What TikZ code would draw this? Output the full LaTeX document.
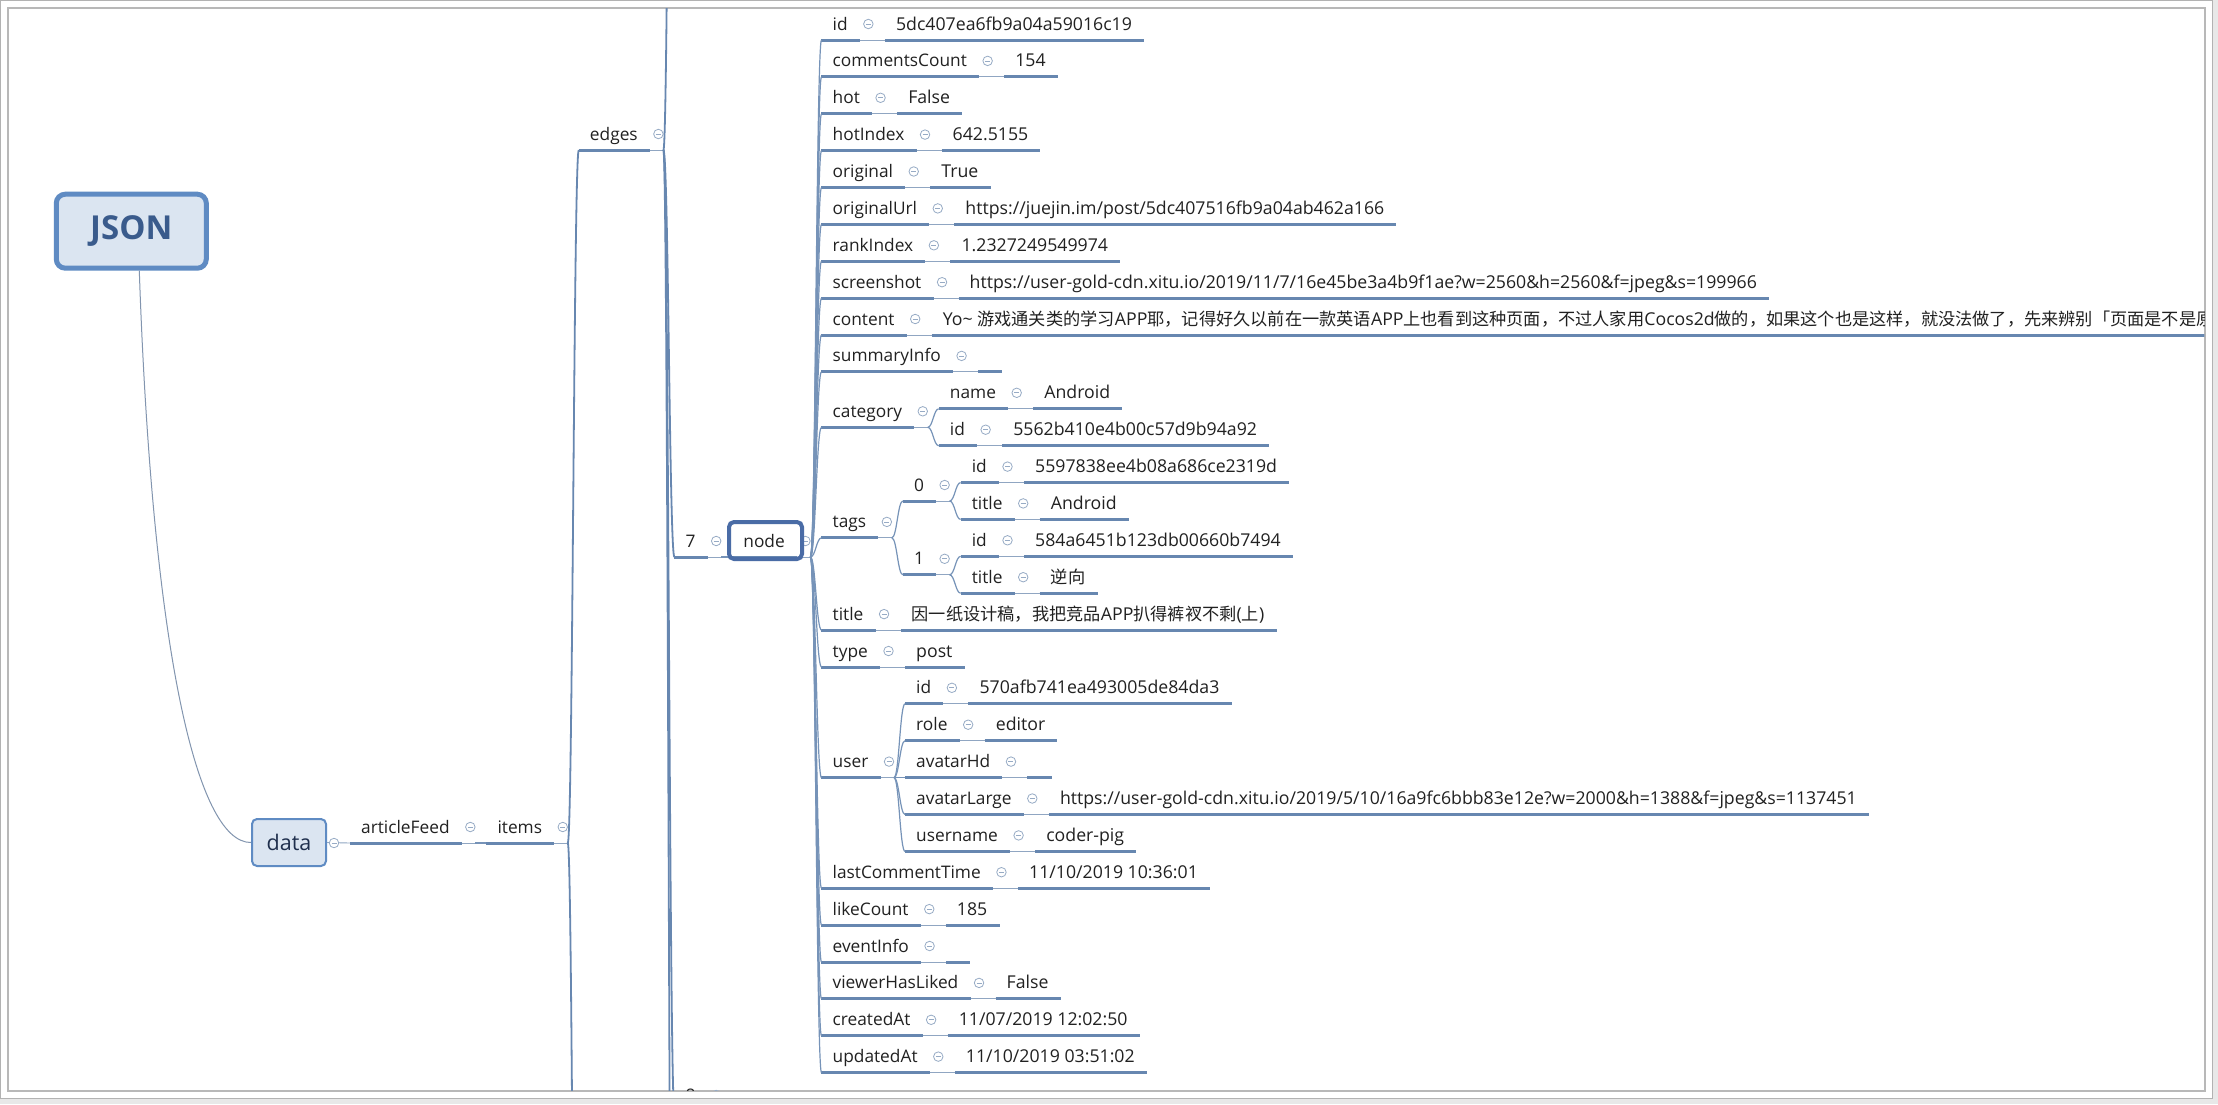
\documentclass[tikz,border=0pt]{standalone}
\usepackage{fontspec}
\setmainfont{Open Sans}
\newfontfamily\cjkf{Noto Sans CJK SC}
\usetikzlibrary{calc}
\definecolor{ul}{HTML}{6787B0}
\definecolor{thinc}{HTML}{90A6C2}
\definecolor{cc}{HTML}{97ABC5}
\definecolor{boxfill}{HTML}{DBE5F1}
\definecolor{boxdraw}{HTML}{5F8BC3}
\definecolor{seldraw}{HTML}{4A6CA6}
\definecolor{jsontext}{HTML}{3A5B8C}
\definecolor{datatext}{HTML}{1F2F4D}
\newcommand\cj[1]{{\cjkf\fontsize{17.2}{20}\selectfont #1}}
\tikzset{
 txt/.style={inner sep=0pt, anchor=base west, font=\fontsize{17.3}{20}\selectfont, text=black!87},
 valtxt/.style={inner sep=0pt, anchor=base west, font=\fontsize{17.7}{20}\selectfont, text=black!87},
 uline/.style={line width=3pt, draw=ul},
 thinl/.style={line width=0.9pt, draw=thinc},
 conn/.style={line width=1.2pt, draw=ul!90},
 trunk/.style={line width=1.8pt, draw=ul},
 rootlink/.style={line width=1pt, draw=thinc!90!black},
 collapse/.style={circle, draw=cc, line width=0.8pt, fill=white, inner sep=0pt, minimum size=9.5pt,
   path picture={\draw[cc, line width=0.8pt] ([xshift=-2.5pt]path picture bounding box.center) -- ([xshift=2.5pt]path picture bounding box.center);}},
 rootbox/.style={rounded corners=9pt, draw=boxdraw, fill=boxfill, line width=5pt, minimum width=150pt, minimum height=74pt, inner sep=0pt, text=jsontext, font=\bfseries\fontsize{33}{36}\selectfont},
 databox/.style={rounded corners=5pt, draw=boxdraw, fill=boxfill, line width=2pt, minimum width=74pt, minimum height=47pt, inner sep=0pt, text=datatext, font=\fontsize{21.5}{24}\selectfont},
 selbox/.style={rounded corners=5pt, draw=seldraw, line width=4pt, minimum width=73pt, minimum height=37pt, inner sep=0pt},
}
% topic: name, x-start coordinate, y of text centre, key
\newcommand\mtopic[4]{%
  \coordinate (#1-y) at (0,#3+16);
  \coordinate (#1-s) at (#2 |- #1-y);
  \node[txt] (#1) at ($(#1-s)+(11,-10)$) {#4};
  \coordinate (#1-e) at ($(#1.east |- #1-s)+(12,0)$);
  \draw[uline] (#1-s) -- (#1-e);
  \coordinate (#1-b) at ($(#1-e)+(13.5,0)$);
  \draw[thinl] (#1-e) -- (#1-b);
  \node[collapse] (#1-c) at ($(#1-e)+(8.5,-16)$) {};
  \coordinate (#1-k) at ($(#1-c)+(16,0)$);
}
\newcommand\mleaf[5]{%
  \mtopic{#1}{#2}{#3}{#4}
  \coordinate (#1-vs) at ($(#1-c)+(16.5,16)$);
  \draw[thinl] (#1-b) -- (#1-vs);
  \node[valtxt] (#1-v) at ($(#1-vs)+(11,-10)$) {#5};
  \draw[uline] (#1-vs) -- ($(#1-v.east |- #1-vs)+(12,0)$);
}
\newcommand\mlink[3][conn]{%
  \draw[#1] (#2-b) .. controls ($(#2-b)+(5,0)$) and ($(#3-s)+(-5,0)$) .. (#3-s);
}
\begin{document}
\begin{tikzpicture}[x=1pt,y=-1pt]
\useasboundingbox (0,0) rectangle (2218,1104);
\fill[black!9] (0,0) rectangle (2218,1104);
\fill[white] (0,0) rectangle (2212,1098.5);
\draw[black!30, line width=1pt] (0.5,0.5) rectangle (2212,1098.5);
\draw[black!28, line width=1.2pt] (8,8) rectangle (2205,1091);
\begin{scope}
\clip (8.6,8.6) rectangle (2204.4,1090.4);
% root and data
\node[rootbox] (json) at (131.3,231.2) {JSON};
\node[databox] (data) at (289,842.5) {data};
\draw[rootlink] ($(json.south)+(8,0)$) .. controls (152,640) and (195,843) .. (data.west);
\coordinate (data-k) at (350,843);
\draw[thinl] (data.east) -- (data-k);
\node[collapse] (data-c) at (334,843) {};
% chain
\mtopic{af}{data-k}{827}{articleFeed}
\mtopic{items}{af-k}{827}{items}
\mlink{af}{items}
\mtopic{edges}{items-k}{134}{edges}
\mlink[trunk]{items}{edges}
\coordinate (ybot) at (0,1700);
\coordinate (pg-s) at (items-k |- ybot);
\mlink[trunk]{items}{pg}
\mtopic{seven}{edges-k}{541}{7}
\mtopic{eight}{edges-k}{1095}{8}
\coordinate (ytop) at (0,-700);
\coordinate (prev-s) at (edges-k |- ytop);
\coordinate (more-s) at (edges-k |- ybot);
\mlink[trunk]{edges}{prev}
\mlink[trunk]{edges}{seven}
\mlink[trunk]{edges}{eight}
\mlink[trunk]{edges}{more}
\mtopic{nd}{seven-k}{541}{node}
\mlink{seven}{nd}
\node[selbox] (ndsel) at (765.5,540.5) {};
% level 1
\mleaf{r0}{nd-k}{24.0}{id}{5dc407ea6fb9a04a59016c19}
\mleaf{r1}{nd-k}{60.9}{commentsCount}{154}
\mleaf{r2}{nd-k}{97.8}{hot}{False}
\mleaf{r3}{nd-k}{134.6}{hotIndex}{642.5155}
\mleaf{r4}{nd-k}{171.5}{original}{True}
\mleaf{r5}{nd-k}{208.4}{originalUrl}{https://juejin.im/post/5dc407516fb9a04ab462a166}
\mleaf{r6}{nd-k}{245.3}{rankIndex}{1.2327249549974}
\mleaf{r7}{nd-k}{282.2}{screenshot}{https://user-gold-cdn.xitu.io/2019/11/7/16e45be3a4b9f1ae?w=2560\&h=2560\&f=jpeg\&s=199966}
\mleaf{r8}{nd-k}{319.0}{content}{Yo\textasciitilde{} \cj{游戏通关类的学习}APP\cj{耶，记得好久以前在一款英语}APP\cj{上也看到这种页面，不过人家用}Cocos2d\cj{做的，如果这个也是这样，就没法做了，先来辨别「页面是不是原}}
\mleaf{r9}{nd-k}{355.9}{summaryInfo}{}
\mtopic{cat}{nd-k}{411.3}{category}
\mleaf{cat1}{cat-k}{392.8}{name}{Android}
\mleaf{cat2}{cat-k}{429.7}{id}{5562b410e4b00c57d9b94a92}
\mtopic{tags}{nd-k}{521.9}{tags}
\mtopic{t0}{tags-k}{485.0}{0}
\mleaf{t0a}{t0-k}{466.6}{id}{5597838ee4b08a686ce2319d}
\mleaf{t0b}{t0-k}{503.4}{title}{Android}
\mtopic{t1}{tags-k}{558.8}{1}
\mleaf{t1a}{t1-k}{540.3}{id}{584a6451b123db00660b7494}
\mleaf{t1b}{t1-k}{577.2}{title}{\cj{逆向}}
\mleaf{r16}{nd-k}{614.1}{title}{\cj{因一纸设计稿，我把竞品}APP\cj{扒得裤衩不剩}(\cj{上})}
\mleaf{r17}{nd-k}{651.0}{type}{post}
\mtopic{user}{nd-k}{761.6}{user}
\mleaf{u0}{user-k}{687.8}{id}{570afb741ea493005de84da3}
\mleaf{u1}{user-k}{724.7}{role}{editor}
\mleaf{u2}{user-k}{761.6}{avatarHd}{}
\mleaf{u3}{user-k}{798.5}{avatarLarge}{https://user-gold-cdn.xitu.io/2019/5/10/16a9fc6bbb83e12e?w=2000\&h=1388\&f=jpeg\&s=1137451}
\mleaf{u4}{user-k}{835.4}{username}{coder-pig}
\mleaf{r23}{nd-k}{872.2}{lastCommentTime}{11/10/2019 10:36:01}
\mleaf{r24}{nd-k}{909.1}{likeCount}{185}
\mleaf{r25}{nd-k}{946.0}{eventInfo}{}
\mleaf{r26}{nd-k}{982.9}{viewerHasLiked}{False}
\mleaf{r27}{nd-k}{1019.8}{createdAt}{11/07/2019 12:02:50}
\mleaf{r28}{nd-k}{1056.6}{updatedAt}{11/10/2019 03:51:02}
% links
\foreach \c in {r0,r1,r2,r3,r4,r5,r6,r7,r8,r9,cat,tags,r16,r17,user,r23,r24,r25,r26,r27,r28}{\mlink{nd}{\c}}
\mlink{cat}{cat1}\mlink{cat}{cat2}
\mlink{tags}{t0}\mlink{tags}{t1}
\mlink{t0}{t0a}\mlink{t0}{t0b}
\mlink{t1}{t1a}\mlink{t1}{t1b}
\foreach \c in {u0,u1,u2,u3,u4}{\mlink{user}{\c}}
\end{scope}
\end{tikzpicture}
\end{document}
